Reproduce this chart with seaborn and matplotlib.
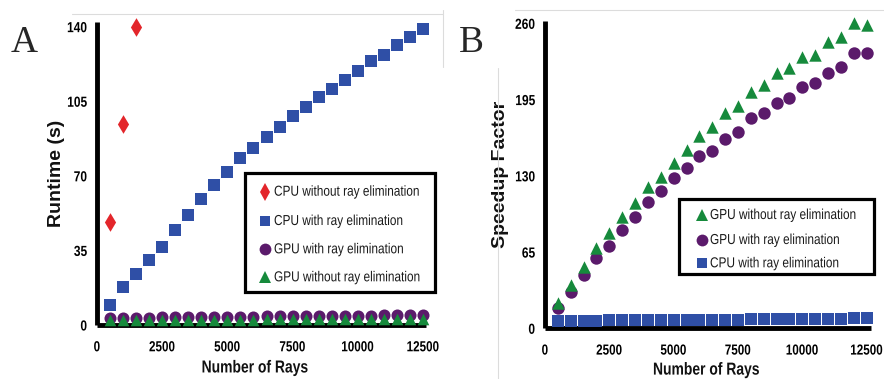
import matplotlib
matplotlib.use("Agg")
import matplotlib.pyplot as plt
from matplotlib.lines import Line2D
from matplotlib.patches import Rectangle
from matplotlib.patheffects import AbstractPathEffect
from matplotlib.text import Text
from matplotlib.transforms import Affine2D, Bbox
import seaborn as sns

sns.set_theme(style="white")
plt.rcParams["font.family"] = ["Liberation Sans", "DejaVu Sans"]

# ---- data -------------------------------------------------------------
rays = [500, 1000, 1500, 2000, 2500, 3000, 3500, 4000, 4500, 5000,
        5500, 6000, 6500, 7000, 7500, 8000, 8500, 9000, 9500, 10000,
        10500, 11000, 11500, 12000, 12500]

# Panel A: runtime in seconds
cpu_no_elim_rays = [500, 1000, 1500]
cpu_no_elim_runtime = [48.5, 94.2, 140.0]
cpu_elim_runtime = [9.4, 18.0, 23.8, 30.5, 36.8, 44.6, 51.7, 59.2, 65.6, 72.0,
                    78.3, 83.0, 88.0, 93.1, 98.2, 102.2, 106.8, 110.7, 115.1, 119.4,
                    124.1, 126.8, 131.2, 135.1, 139.0]
gpu_elim_runtime = [3.4, 3.4, 3.5, 3.5, 3.6, 3.6, 3.7, 3.7, 3.8, 3.8,
                    3.9, 3.9, 4.0, 4.0, 4.1, 4.1, 4.2, 4.2, 4.3, 4.3,
                    4.4, 4.5, 4.5, 4.6, 4.7]
gpu_no_elim_runtime = [2.3, 2.3, 2.3, 2.3, 2.4, 2.4, 2.4, 2.4, 2.5, 2.5,
                       2.5, 2.5, 2.6, 2.6, 2.6, 2.6, 2.7, 2.7, 2.7, 2.7,
                       2.8, 2.8, 2.8, 2.9, 2.9]

# Panel B: speedup factor
gpu_no_elim_speedup = [21.3, 37.0, 52.6, 68.2, 81.0, 94.6, 107.0, 120.8, 129.3, 141.2,
                       152.0, 164.0, 172.0, 183.3, 189.5, 201.8, 207.4, 217.4, 221.7, 231.6,
                       233.0, 244.4, 248.6, 260.6, 258.6]
gpu_elim_speedup = [17.0, 31.3, 45.5, 59.7, 70.2, 83.8, 95.2, 108.0, 117.4, 127.9,
                    137.0, 147.2, 151.5, 161.1, 167.7, 179.0, 183.3, 191.8, 196.0, 205.5,
                    209.4, 218.0, 222.5, 234.4, 234.4]
cpu_elim_speedup = [6.2, 6.0, 6.4, 6.5, 6.8, 6.9, 7.0, 7.0, 7.1, 7.1,
                    7.1, 7.2, 7.3, 7.5, 7.5, 7.6, 7.6, 7.7, 7.9, 8.0,
                    8.0, 8.1, 8.1, 8.4, 8.5]

x_ticks = [0, 2500, 5000, 7500, 10000, 12500]
yticks_a = [0, 35, 70, 105, 140]
yticks_b = [0, 65, 130, 195, 260]

labels_a = ["CPU without ray elimination", "CPU with ray elimination",
            "GPU with ray elimination", "GPU without ray elimination"]
labels_b = ["GPU without ray elimination", "GPU with ray elimination",
            "CPU with ray elimination"]

RED = "#e3262b"
BLUE = "#2f4fa6"
PURPLE = "#5b1a6b"
GREEN = "#168a3c"


class Squeeze(AbstractPathEffect):
    """Condense glyph outlines horizontally (narrow typeface look)."""

    def __init__(self, sx=0.82, anchor="center"):
        super().__init__()
        self.sx = sx
        self.anchor = anchor

    def draw_path(self, renderer, gc, tpath, affine, rgbFace=None):
        v = tpath.vertices
        ref = 0.0
        if len(v) and self.anchor != "left":
            x0, x1 = v[:, 0].min(), v[:, 0].max()
            ref = x1 if self.anchor == "right" else 0.5 * (x0 + x1)
        sq = Affine2D().translate(-ref, 0).scale(self.sx, 1).translate(ref, 0)
        renderer.draw_path(gc, tpath, sq + affine, rgbFace)


# Report the condensed width for squeezed horizontal text, so extents match the ink.
_text_extent = Text.get_window_extent


def _squeezed_extent(self, renderer=None, dpi=None):
    bb = _text_extent(self, renderer, dpi)
    if self.get_rotation() % 180 != 0:
        return bb
    for pe in self.get_path_effects():
        if isinstance(pe, Squeeze):
            w = bb.width * pe.sx
            if pe.anchor == "left":
                x0 = bb.x0
            elif pe.anchor == "right":
                x0 = bb.x1 - w
            else:
                x0 = 0.5 * (bb.x0 + bb.x1) - 0.5 * w
            return Bbox.from_bounds(x0, bb.y0, w, bb.height)
    return bb


Text.get_window_extent = _squeezed_extent

fig = plt.figure(figsize=(8.84, 3.79), dpi=100)
W, H = 884, 379


def px_axes(left, top, right, bottom):
    return fig.add_axes([left / W, 1 - bottom / H, (right - left) / W, (bottom - top) / H])


ax_a = px_axes(97, 22.4, 425.6, 325)
ax_b = px_axes(545, 21, 870.5, 328.3)


def points(ax, x, y, marker, color, size):
    sns.scatterplot(x=x, y=y, ax=ax, marker=marker, color=color, s=size,
                    linewidth=0, legend=False, zorder=3, clip_on=False)


# Panel A
points(ax_a, rays, gpu_elim_runtime, "o", PURPLE, 75)
points(ax_a, rays, gpu_no_elim_runtime, "^", GREEN, 70)
points(ax_a, rays, cpu_elim_runtime, "s", BLUE, 70)
points(ax_a, cpu_no_elim_rays, cpu_no_elim_runtime, "d", RED, 90)

# Panel B
points(ax_b, rays, cpu_elim_speedup, "s", BLUE, 70)
points(ax_b, rays, gpu_elim_speedup, "o", PURPLE, 80)
points(ax_b, rays, gpu_no_elim_speedup, "^", GREEN, 80)

for ax, yt, ylim, xlim, ylabel, ylab_x, xlab_xy in [
    (ax_a, yticks_a, (0, 142), (0, 12600), "Runtime (s)", -0.122, (0.481, -0.142)),
    (ax_b, yticks_b, (0, 262), (0, 12650), "Speedup Factor", -0.138, (0.496, -0.136)),
]:
    ax.set_xlim(*xlim)
    ax.set_ylim(*ylim)
    ax.set_xticks(x_ticks)
    ax.set_yticks(yt)
    ax.set_xticklabels([str(t) for t in x_ticks], size=10.5, weight="bold")
    ax.set_yticklabels([str(t) for t in yt], size=10.5, weight="bold")
    for t in ax.get_xticklabels():
        t.set_path_effects([Squeeze(0.8, "center")])
    for t in ax.get_yticklabels():
        t.set_path_effects([Squeeze(0.82, "right")])
    ax.tick_params(axis="both", length=0, colors="black")
    ax.tick_params(axis="x", pad=11)
    ax.tick_params(axis="y", pad=7)
    sns.despine(ax=ax)
    for side in ("left", "bottom"):
        ax.spines[side].set_linewidth(3.5)
        ax.spines[side].set_color("black")
        ax.spines[side].set_capstyle("butt")
    ax.set_xlabel("Number of Rays", size=12.5, weight="bold", color="#111111",
                  va="center", path_effects=[Squeeze(0.8, "center")])
    ax.xaxis.set_label_coords(*xlab_xy)
    ax.set_ylabel(ylabel, size=14, weight="bold", color="#111111", va="center")
    ax.yaxis.set_label_coords(ylab_x, 0.5)
    ax.grid(False)


def draw_key(box, rows, marker_x, text_x, text_size=10.4):
    """Boxed key: box = (left, top, right, bottom) px; rows = (y, marker, color, ms, text)."""
    l, t, r, b = box
    fig.add_artist(Rectangle((l / W, 1 - b / H), (r - l) / W, (b - t) / H,
                             transform=fig.transFigure, facecolor="white",
                             edgecolor="black", linewidth=2.3, zorder=5))
    for y, marker, color, ms, text in rows:
        fig.add_artist(Line2D([marker_x / W], [1 - y / H], transform=fig.transFigure,
                              linestyle="none", marker=marker, color=color,
                              markersize=ms, markeredgewidth=0, zorder=6))
        fig.text(text_x / W, 1 - y / H, text, size=text_size, color="#1a1a1a",
                 ha="left", va="center", zorder=6,
                 path_effects=[Squeeze(0.82, "left")])


draw_key((245, 173, 435, 292),
         [(191.7, "d", RED, 9, labels_a[0]),
          (221.0, "s", BLUE, 7.5, labels_a[1]),
          (249.3, "o", PURPLE, 8.5, labels_a[2]),
          (277.3, "^", GREEN, 8.5, labels_a[3])],
         marker_x=265, text_x=274)

draw_key((679, 199, 874, 274),
         [(215.0, "^", GREEN, 8.5, labels_b[0]),
          (240.0, "o", PURPLE, 8.5, labels_b[1]),
          (263.3, "s", BLUE, 7.5, labels_b[2])],
         marker_x=701.5, text_x=710)

# Panel letters
serif = ["Liberation Serif", "DejaVu Serif"]
fig.text(24 / W, 1 - 43 / H, "A", family=serif, size=27, ha="center", va="center")
fig.text(471 / W, 1 - 43 / H, "B", family=serif, size=27, ha="center", va="center")

# Faint panel frame lines
frame = dict(color="#dcdcdc", linewidth=0.8, transform=fig.transFigure)
fig.add_artist(Line2D([72 / W, 443 / W], [1 - 14 / H, 1 - 14 / H], **frame))
fig.add_artist(Line2D([443 / W, 443 / W], [1 - 10 / H, 1 - 67 / H], **frame))
fig.add_artist(Line2D([515 / W, 1.0], [1 - 10 / H, 1 - 10 / H], **frame))
fig.add_artist(Line2D([498 / W, 498 / W], [1 - 68 / H, 0.0], **frame))

fig.savefig("out.png", dpi=100, facecolor="white")
